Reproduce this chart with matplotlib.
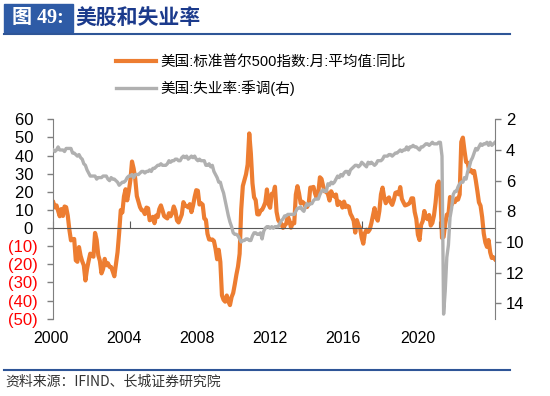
import matplotlib
matplotlib.use('Agg')
import matplotlib.pyplot as plt
import matplotlib.transforms as mtransforms
from matplotlib.patches import Rectangle
from matplotlib.lines import Line2D
from matplotlib.ticker import FuncFormatter
import numpy as np

plt.rcParams['font.family'] = ['Liberation Sans', 'Noto Sans CJK SC']

# 月度数据 2000-01 ~ 2022-12
start_year = 2000
# 美国:标准普尔500指数:月:平均值:同比 (%)
spx_yoy = [
    14.2, 11.4, 12.5, 9.5, 6.5, 10.5, 6.7, 11.9, 11.5, 6.9, -0.9, -6.8,        # 2000
    -6.2, -6.0, -17.8, -18.6, -10.5, -15.3, -18.3, -20.6, -28.9, -22.6, -18.1, -14.1,  # 2001
    -14.7, -15.8, -2.7, -6.5, -15.0, -18.1, -25.0, -22.6, -17.0, -20.5, -19.4, -21.4,  # 2002
    -21.5, -23.9, -26.6, -20.0, -13.3, -2.6, 9.9, 8.6, 17.5, 21.4, 15.3, 20.2,  # 2003
    26.5, 36.7, 32.9, 27.3, 17.7, 14.7, 11.5, 9.9, 9.6, 7.7, 11.3, 10.9,        # 2004
    4.3, 4.8, 6.2, 2.7, 6.9, 6.1, 10.5, 12.5, 9.7, 6.6, 5.9, 5.3,               # 2005
    8.2, 6.5, 8.3, 11.9, 9.5, 4.2, 3.1, 5.2, 7.5, 14.3, 12.3, 12.2,             # 2006
    11.4, 13.2, 8.8, 12.4, 17.1, 20.9, 20.6, 13.0, 13.7, 12.9, 5.3, 4.5,        # 2007
    -3.2, -6.3, -6.4, -6.3, -7.1, -11.4, -17.2, -12.0, -18.7, -37.1, -39.6, -40.6,  # 2008
    -37.2, -40.5, -42.5, -38.1, -35.8, -31.0, -25.7, -21.2, -14.2, 10.3, 23.2, 26.4,  # 2009
    29.7, 35.1, 52.2, 41.2, 24.7, 17.0, 15.4, 7.6, 7.5, 9.6, 10.1, 11.9,        # 2010
    14.2, 21.3, 13.2, 11.2, 18.9, 18.8, 22.8, 9.0, 4.5, 3.1, 2.3, 0.1,          # 2011
    1.4, 2.4, 6.5, 4.1, 0.2, 2.8, 2.6, 18.5, 23.1, 19.1, 13.7, 14.5,            # 2012
    13.8, 11.8, 11.6, 13.3, 22.3, 22.4, 22.7, 19.0, 16.5, 19.6, 28.0, 27.1,     # 2013
    23.1, 20.2, 20.2, 18.6, 15.2, 20.3, 18.2, 17.4, 18.5, 12.7, 14.6, 13.7,     # 2014
    11.3, 14.6, 11.6, 12.3, 11.8, 7.9, 6.2, 4.0, -2.5, 4.4, 1.7, 0.0,           # 2015
    -5.4, -8.6, -2.8, -0.9, -2.1, -0.8, 2.6, 6.8, 11.0, 5.9, 4.1, 9.4,          # 2016
    18.6, 22.3, 17.0, 13.7, 15.9, 16.9, 14.2, 12.8, 15.5, 19.4, 19.8, 18.6,     # 2017
    22.6, 16.1, 14.2, 12.5, 12.8, 13.2, 13.9, 16.4, 16.4, 8.9, 5.0, -3.7,       # 2018
    -6.6, 1.8, 3.8, 9.4, 5.6, 4.9, 7.2, 1.4, 2.8, 6.9, 14.0, 23.8,              # 2019
    25.7, 19.0, -5.4, -4.9, 2.3, 7.4, 7.1, 17.1, 12.8, 14.8, 14.3, 16.3,        # 2020
    15.7, 18.5, 47.5, 49.9, 42.7, 36.5, 36.0, 31.3, 32.1, 30.5, 31.5, 26.5,     # 2021
    20.6, 14.2, 12.3, 6.1, -3.0, -8.0, -10.4, -6.6, -13.4, -16.5, -16.1, -17.2,  # 2022
]
# 美国:失业率:季调 (%)
unemp = [
    4.0, 4.1, 4.0, 3.8, 4.0, 4.0, 4.0, 4.1, 3.9, 3.9, 3.9, 3.9,   # 2000
    4.2, 4.2, 4.3, 4.4, 4.3, 4.5, 4.6, 4.9, 5.0, 5.3, 5.5, 5.7,   # 2001
    5.7, 5.7, 5.7, 5.9, 5.8, 5.8, 5.8, 5.7, 5.7, 5.7, 5.9, 6.0,   # 2002
    5.8, 5.9, 5.9, 6.0, 6.1, 6.3, 6.2, 6.1, 6.1, 6.0, 5.8, 5.7,   # 2003
    5.7, 5.6, 5.8, 5.6, 5.6, 5.6, 5.5, 5.4, 5.4, 5.5, 5.4, 5.4,   # 2004
    5.3, 5.4, 5.2, 5.2, 5.1, 5.0, 5.0, 4.9, 5.0, 5.0, 5.0, 4.9,   # 2005
    4.7, 4.8, 4.7, 4.7, 4.6, 4.6, 4.7, 4.7, 4.5, 4.4, 4.5, 4.4,   # 2006
    4.6, 4.5, 4.4, 4.5, 4.4, 4.6, 4.7, 4.6, 4.7, 4.7, 4.7, 5.0,   # 2007
    5.0, 4.9, 5.1, 5.0, 5.4, 5.6, 5.8, 6.1, 6.1, 6.5, 6.8, 7.3,   # 2008
    7.8, 8.3, 8.7, 9.0, 9.4, 9.5, 9.5, 9.6, 9.8, 10.0, 9.9, 9.9,  # 2009
    9.8, 9.8, 9.9, 9.9, 9.6, 9.4, 9.4, 9.5, 9.5, 9.4, 9.8, 9.3,   # 2010
    9.1, 9.0, 9.0, 9.1, 9.0, 9.1, 9.0, 9.0, 9.0, 8.8, 8.6, 8.5,   # 2011
    8.3, 8.3, 8.2, 8.2, 8.2, 8.2, 8.2, 8.0, 7.8, 7.8, 7.7, 7.9,   # 2012
    8.0, 7.7, 7.5, 7.6, 7.5, 7.5, 7.3, 7.2, 7.2, 7.2, 6.9, 6.7,   # 2013
    6.6, 6.7, 6.7, 6.2, 6.3, 6.1, 6.2, 6.1, 5.9, 5.7, 5.8, 5.6,   # 2014
    5.7, 5.5, 5.4, 5.4, 5.6, 5.3, 5.2, 5.1, 5.0, 5.0, 5.1, 5.0,   # 2015
    4.8, 4.9, 5.0, 5.1, 4.8, 4.9, 4.8, 4.9, 5.0, 4.9, 4.7, 4.7,   # 2016
    4.7, 4.6, 4.4, 4.4, 4.4, 4.3, 4.3, 4.4, 4.3, 4.2, 4.2, 4.1,   # 2017
    4.0, 4.1, 4.0, 4.0, 3.8, 4.0, 3.8, 3.8, 3.7, 3.8, 3.8, 3.9,   # 2018
    4.0, 3.8, 3.8, 3.7, 3.6, 3.6, 3.7, 3.6, 3.5, 3.6, 3.6, 3.6,   # 2019
    3.5, 3.5, 4.4, 14.7, 13.2, 11.0, 10.2, 8.4, 7.8, 6.9, 6.7, 6.7,  # 2020
    6.4, 6.2, 6.1, 6.1, 5.8, 5.9, 5.4, 5.1, 4.7, 4.5, 4.2, 3.9,   # 2021
    4.0, 3.8, 3.6, 3.7, 3.6, 3.6, 3.5, 3.7, 3.5, 3.7, 3.6, 3.5,   # 2022
]
x_labels = ['2000', '2004', '2008', '2012', '2016', '2020']
legend_labels = ['美国:标准普尔500指数:月:平均值:同比', '美国:失业率:季调(右)']

x = start_year + np.arange(len(spx_yoy)) / 12.0

W, H = 550, 396
fig = plt.figure(figsize=(5.5, 3.96), dpi=100)
ax = fig.add_axes([53.3 / W, 1 - 318.7 / H, (495 - 53.3) / W, (318.7 - 119.3) / H])
ax2 = ax.twinx()

l1, = ax.plot(x, spx_yoy, color='#ED7D31', lw=3.0, solid_joinstyle='round')
l2, = ax2.plot(x, unemp, color='#B0B0B0', lw=2.4, solid_joinstyle='round')

ax.set_xlim(x[0], x[-1])
ax.set_ylim(-50, 60)
ax.set_yticks(range(-50, 61, 10))
ax2.set_ylim(15, 2)
ax2.set_yticks(range(2, 15, 2))


def left_fmt(v, pos):
    v = int(round(v))
    return '(%d)' % -v if v < 0 else '%d ' % v


ax.yaxis.set_major_formatter(FuncFormatter(left_fmt))
ax.tick_params(axis='y', direction='out', length=4, width=1, color='#7F7F7F',
               labelsize=12, pad=7)
fig.canvas.draw()
# 负数标红
for v, t in zip(ax.get_yticks(), ax.get_yticklabels()):
    if v < 0:
        t.set_color('#FF0000')

ax2.tick_params(axis='y', direction='out', length=4, width=1, color='#7F7F7F',
                labelsize=12, pad=4)

# x 轴在 0 处
ax.spines['bottom'].set_position(('data', 0))
ax.spines['bottom'].set_color('#595959')
ax.spines['left'].set_color('#7F7F7F')
ax.spines['top'].set_visible(False)
ax.spines['right'].set_visible(False)
for s in ['left', 'top', 'bottom']:
    ax2.spines[s].set_visible(False)
ax2.spines['right'].set_color('#7F7F7F')
ax.set_xticks(range(2000, 2023, 4))
ax.tick_params(axis='x', direction='in', length=5, color='#595959', labelbottom=False)

# 年份标签
trans = mtransforms.blended_transform_factory(ax.transData, ax.transAxes)
label_pos = [1999.9, 2003.65, 2007.45, 2011.25, 2015.05, 2018.9]
for p, s in zip(label_pos, x_labels):
    ax.text(p, -0.098, s, transform=trans, ha='center', va='center', fontsize=11.5)

fig.legend([l1, l2], legend_labels, loc='upper left',
           bbox_to_anchor=(115.5 / W, 1 - 55 / H), frameon=False, fontsize=10.5,
           handlelength=2.8, handletextpad=0.3, labelspacing=0.75,
           borderpad=0, borderaxespad=0)

# 标题
fig.patches.append(Rectangle((4 / W, 1 - 32 / H), 69 / W, 28 / H, transform=fig.transFigure,
                             color='#2E5BA6', zorder=0))
fig.text(38 / W, 1 - 18 / H, '图 49:', color='white', fontsize=14.5, fontweight='bold',
         family=['Liberation Serif', 'Noto Sans CJK SC'], ha='center', va='center')
fig.text(75 / W, 1 - 18 / H, '美股和失业率', color='#1B3A8C', fontsize=15, fontweight='bold',
         family=['Noto Sans CJK SC'], ha='left', va='center')
fig.add_artist(Line2D([4 / W, 510 / W], [1 - 33.5 / H] * 2, color='#2E5597', lw=1.5))

# 底部
fig.add_artist(Line2D([4 / W, 510 / W], [1 - 370 / H] * 2, color='#2E5597', lw=1.5))
fig.text(5 / W, 1 - 382 / H, '资料来源：IFIND、长城证券研究院', color='#333333', fontsize=10,
         style='italic', family=['Noto Sans CJK SC'], ha='left', va='center')

plt.savefig('out.png', dpi=100)
